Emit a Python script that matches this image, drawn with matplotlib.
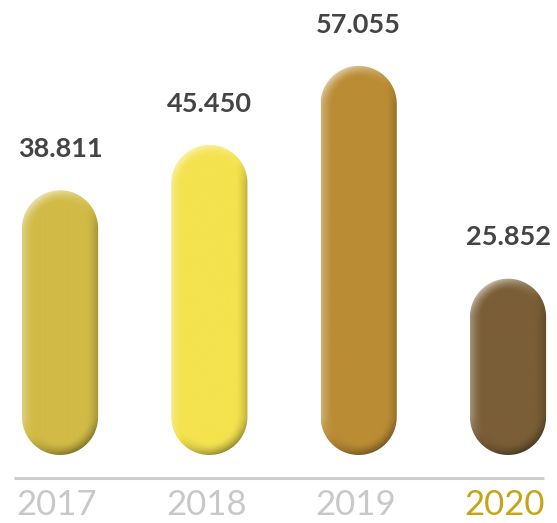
import matplotlib
matplotlib.use("Agg")
import matplotlib.pyplot as plt
import numpy as np
from matplotlib.patches import Polygon
from matplotlib.colors import to_rgb

# données
annees = ["2017", "2018", "2019", "2020"]
valeurs = [38.811, 45.450, 57.055, 25.852]
libelles = ["38.811", "45.450", "57.055", "25.852"]
couleurs = ["#D1BA45", "#F4E24E", "#BA8C34", "#7A5E37"]
couleurs_annee = ["#C8C8C8", "#C8C8C8", "#C8C8C8", "#C4A516"]

fig = plt.figure(figsize=(5.57, 5.23), dpi=100)
ax = fig.add_axes([0, 0, 1, 1])
ax.set_xlim(-0.402, 3.328)
ax.set_ylim(-9.97, 66.7)
ax.axis("off")

x = np.arange(len(valeurs))
largeur = 0.51

# échelle pixels / unité pour garder des bouts bien ronds
p0 = ax.transData.transform((0, 0))
p1 = ax.transData.transform((1, 1))
px_x, px_y = p1 - p0
rx = largeur / 2
ry = rx * px_x / px_y

lum = np.array([-0.55, 0.83])
lum = lum / np.linalg.norm(lum)


def contour_pilule(xc, v):
    t = np.linspace(0, np.pi, 60)
    haut = np.column_stack([xc + rx * np.cos(t), v - ry + ry * np.sin(t)])
    bas = np.column_stack([xc - rx * np.cos(t), ry - ry * np.sin(t)])
    return np.vstack([haut, bas])


def ombrage(base, W, H):
    # petit effet de relief : bord clair en haut à gauche, sombre en bas à droite
    r = W / 2
    xs = np.arange(W) + 0.5 - r
    ys = np.arange(H) + 0.5
    X, Y = np.meshgrid(xs, ys)
    cy = np.clip(Y, r, H - r)
    dx, dy = X, Y - cy
    d = np.sqrt(dx ** 2 + dy ** 2) + 1e-9
    e = r - d
    nx, ny = dx / d, dy / d
    bord = np.clip(1 - e / 12.0, 0, 1) ** 1.5
    s = bord * (nx * lum[0] + ny * lum[1])
    base = np.array(to_rgb(base))
    img = np.empty((H, W, 3))
    clair = s > 0
    for c in range(3):
        img[..., c] = np.where(clair, base[c] + s * 0.6 * (1 - base[c]),
                               base[c] * (1 + s * 0.42))
    return np.clip(img, 0, 1)


for i, (v, col) in enumerate(zip(valeurs, couleurs)):
    x0 = x[i] - largeur / 2
    pilule = Polygon(contour_pilule(x[i], v), closed=True,
                     facecolor="none", edgecolor="none")
    ax.add_patch(pilule)
    W = int(round(largeur * px_x))
    H = int(round(v * px_y))
    im = ax.imshow(ombrage(col, W, H), extent=(x0, x0 + largeur, 0, v),
                   origin="lower", aspect="auto", interpolation="bilinear")
    im.set_clip_path(pilule)
    ax.annotate(libelles[i], (x[i], v), xytext=(0, 21), textcoords="offset points",
                ha="center", va="bottom", fontsize=19.5, fontweight="bold",
                color="#444444", family=["Lato", "DejaVu Sans"])

# ligne de base
ax.plot([-0.31, 3.24], [-3.37, -3.37], color="#CCCCCC", lw=2.2,
        solid_capstyle="butt")

for i, a in enumerate(annees):
    ax.text(x[i] - 0.02, -5.0, a, ha="center", va="top", fontsize=25,
            fontweight="normal", color=couleurs_annee[i],
            family=["Lato", "DejaVu Sans"])

ax.set_xlim(-0.402, 3.328)
ax.set_ylim(-9.97, 66.7)

fig.savefig("out.png", dpi=100)
